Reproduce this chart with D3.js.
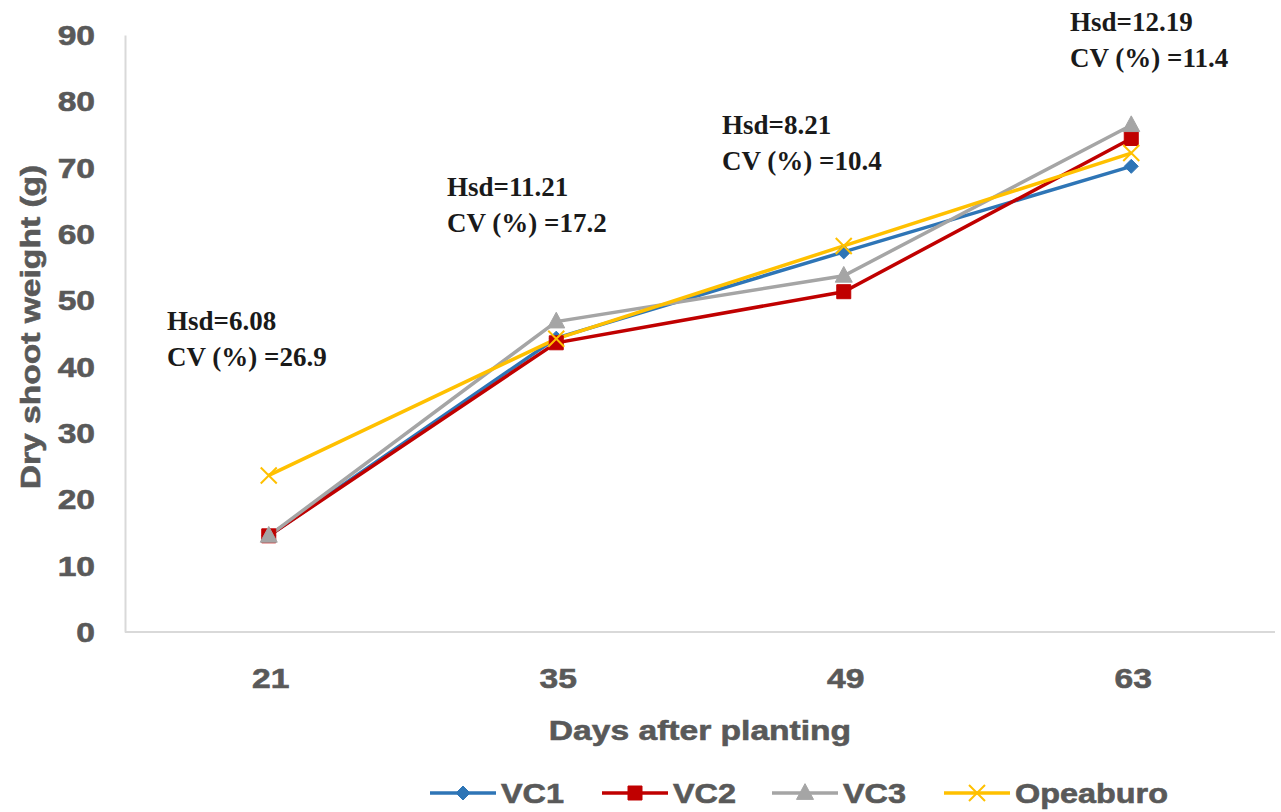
<!DOCTYPE html>
<html>
<head>
<meta charset="utf-8">
<script src="https://cdn.jsdelivr.net/npm/d3@7"></script>
<style>
  body { margin: 0; background: #fff; }
  svg { display: block; }
</style>
</head>
<body>
<main></main>
<script>
const width = 1281;
const height = 812;
const plotLeft = 125, plotRight = 1275, plotTop = 35, plotBottom = 632;

// data
const days = ['21', '35', '49', '63'];
const vc1 = [14.5, 44.3, 57.3, 70.2];
const vc2 = [14.5, 43.6, 51.3, 74.4];
const vc3 = [14.5, 46.8, 53.7, 76.4];
const opeaburo = [23.6, 44.2, 58.2, 72.2];
const seriesNames = ['VC1', 'VC2', 'VC3', 'Opeaburo'];
const yTicks = [0, 10, 20, 30, 40, 50, 60, 70, 80, 90];
const notes = [
  ['Hsd=6.08', 'CV (%) =26.9'],
  ['Hsd=11.21', 'CV (%) =17.2'],
  ['Hsd=8.21', 'CV (%) =10.4'],
  ['Hsd=12.19', 'CV (%) =11.4']
];

const colors = ['#2e75b6', '#c00000', '#a5a5a5', '#ffc000'];
const symbols = ['diamond', 'square', 'triangle', 'cross'];
const allSeries = [vc1, vc2, vc3, opeaburo];

const svg = d3.select('main')
              .append('svg')
              .attr('width', width)
              .attr('height', height);

const xScale = d3.scalePoint().domain(days).range([plotLeft, plotRight]).padding(0.5);
const yScale = d3.scaleLinear().domain([0, 90]).range([plotBottom, plotTop]);

const grey = '#595959';
const sans = "'Liberation Sans', Arial, sans-serif";
const serif = "'Liberation Serif', 'Times New Roman', serif";

// stretched heavy sans text, like the picture
const wideText = (x, y, str, anchor, size, rotate) => {
    return svg.append('text')
              .attr('transform', `translate(${x},${y})` + (rotate ? ` rotate(${rotate})` : '') + ' scale(1.2,1)')
              .attr('text-anchor', anchor)
              .attr('font-family', sans)
              .attr('font-weight', 'bold')
              .attr('font-size', size)
              .attr('fill', grey)
              .attr('stroke', grey)
              .attr('stroke-width', 0.6)
              .text(str);
};

// axes
const yAxis = svg.append('g')
                 .attr('transform', 'translate(' + plotLeft + ',0)')
                 .call(d3.axisLeft(yScale).tickValues(yTicks).tickSize(0).tickFormat(''));
const xAxis = svg.append('g')
                 .attr('transform', 'translate(0,' + plotBottom + ')')
                 .call(d3.axisBottom(xScale).tickSize(0).tickFormat(''));
[yAxis, xAxis].forEach(a => a.select('.domain').attr('stroke', '#d9d9d9').attr('stroke-width', 2));
xAxis.select('.domain').attr('d', `M${plotLeft},0H${plotRight}`);

yTicks.forEach(t => wideText(95, yScale(t) + 10, t, 'end', 28));
days.forEach(d => wideText(xScale(d) + 2, 688, d, 'middle', 28));

wideText(700, 740, 'Days after planting', 'middle', 28);
wideText(40, 327, 'Dry shoot weight (g)', 'middle', 28, -90);

// series lines and markers
const line = d3.line().x((d, i) => xScale(days[i])).y(d => yScale(d));

const markerPath = (type, s) => {
    if (type === 'diamond') return `M0,${-s}L${s},0L0,${s}L${-s},0Z`;
    if (type === 'square') return `M${-s},${-s}H${s}V${s}H${-s}Z`;
    if (type === 'triangle') return `M0,${-s * 1.1}L${s},${s * 0.75}H${-s}Z`;
    return `M${-s},${-s}L${s},${s}M${s},${-s}L${-s},${s}`;
};

allSeries.forEach((vals, k) => {
    svg.append('path')
       .datum(vals)
       .attr('d', line)
       .attr('fill', 'none')
       .attr('stroke', colors[k])
       .attr('stroke-width', 3.5);
});

const markerSize = [7, 7, 8.5, 8];
allSeries.forEach((vals, k) => {
    svg.selectAll('.m' + k)
       .data(vals)
       .enter()
       .append('path')
       .attr('class', 'm' + k)
       .attr('transform', (d, i) => `translate(${xScale(days[i])},${yScale(d)})`)
       .attr('d', markerPath(symbols[k], markerSize[k]))
       .attr('fill', symbols[k] === 'cross' ? 'none' : colors[k])
       .attr('stroke', colors[k])
       .attr('stroke-width', symbols[k] === 'cross' ? 2 : 1);
});

// Hsd / CV notes
const notePos = [[167, 330], [447, 196], [722, 134], [1070, 31]];
notes.forEach((n, i) => {
    n.forEach((str, j) => {
        svg.append('text')
           .attr('x', notePos[i][0])
           .attr('y', notePos[i][1] + j * 36)
           .attr('font-family', serif)
           .attr('font-weight', 'bold')
           .attr('font-size', 27)
           .attr('fill', '#1a1a1a')
           .text(str);
    });
});

// legend
const legendX = [430, 602, 772, 944];
const legendY = 793;
seriesNames.forEach((name, k) => {
    const g = svg.append('g').attr('transform', `translate(${legendX[k]},${legendY})`);
    g.append('line')
     .attr('x1', 0).attr('x2', 66)
     .attr('stroke', colors[k])
     .attr('stroke-width', 3.5);
    g.append('path')
     .attr('transform', 'translate(33,0)')
     .attr('d', markerPath(symbols[k], markerSize[k]))
     .attr('fill', symbols[k] === 'cross' ? 'none' : colors[k])
     .attr('stroke', colors[k])
     .attr('stroke-width', symbols[k] === 'cross' ? 2 : 1);
    wideText(legendX[k] + 71, legendY + 10, name, 'start', 27);
});
</script>
</body>
</html>
